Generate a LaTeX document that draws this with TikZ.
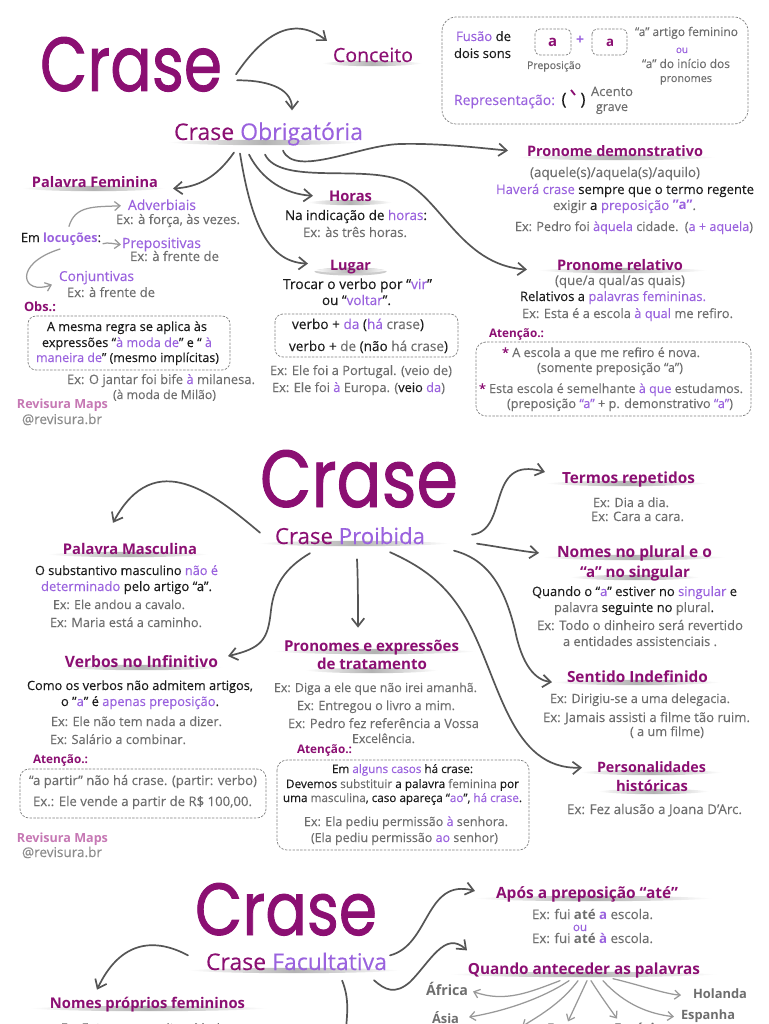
\documentclass[tikz,border=0pt]{standalone}
\usepackage{fontspec}
\usepackage{graphicx}
\setmainfont[UprightFeatures={FakeBold=0.12}]{Open Sans}
\usetikzlibrary{arrows.meta,calc}
\definecolor{plum}{HTML}{8B0F72}
\definecolor{lilac}{HTML}{9A62DE}
\definecolor{greytx}{HTML}{6E6E6E}
\definecolor{inkk}{HTML}{1C1C1C}
\definecolor{arrowc}{HTML}{555555}
\definecolor{arrowl}{HTML}{999999}
\definecolor{brandc}{HTML}{C678B4}
\newcommand{\Lp}[1]{\textcolor{lilac}{#1}}
\newcommand{\Bk}[1]{\textcolor{inkk}{#1}}
\newcommand{\Pm}[1]{\textcolor{plum}{#1}}
\tikzset{
  tx/.style={inner sep=0pt,outer sep=0pt,text=greytx,anchor=base},
  arr/.style={draw=arrowc,line width=1.7pt,line cap=round,-{Straight Barb[length=8pt,width=12.5pt,line width=1.7pt]}},
  arrl/.style={draw=arrowl,line width=1.25pt,line cap=round,-{Straight Barb[length=5.5pt,width=9pt,line width=1.25pt]}},
  dbox/.style={draw=black!50,line width=0.7pt,dash pattern=on 2.4pt off 1.4pt},
}
% one line of text, set to fill xl..xr, baseline yb
\newcommand{\tline}[5]{\pgfmathsetmacro{\tlw}{#3-#2}%
  \node[tx] (#1) at ({(#2+#3)/2},#4) {\resizebox{\tlw pt}{!}{#5}};}
% soft underline
\newcommand{\shd}[3]{\pgfmathsetmacro{\sa}{#1+(#2-#1)*0.2}\pgfmathsetmacro{\sb}{#1+(#2-#1)*0.8}%
  \pgfmathsetmacro{\sy}{#3+0.5}%
  \shade[left color=white,right color=white,middle color=black!30]
    (#1,\sy) .. controls (\sa,\sy-3.6) and (\sb,\sy-3.6) .. (#2,\sy)
    .. controls (\sb,\sy+3.6) and (\sa,\sy+3.6) .. (#1,\sy);}
% heading: name xl xr yb sx1 sx2 text
\newcommand{\hdg}[7]{\shd{#5}{#6}{#4}\tline{#1}{#2}{#3}{#4}{\textcolor{plum}{\bfseries #7}}}
% big title
\newcommand{\bigt}[5]{\pgfmathsetmacro{\tlw}{#3-#2}%
  \node[tx] (#1) at ({(#2+#3)/2},#4) {\resizebox{\tlw pt}{#5pt}{\textcolor{plum}{\fontspec[FakeBold=1.2]{Poppins}\selectfont Crase}}};}
\begin{document}
\begin{tikzpicture}[x=1pt,y=-1pt]
\useasboundingbox (0,0) rectangle (768,1024);
\clip (0,0) rectangle (768,1024);
\fill[white] (0,0) rectangle (768,1024);

% ---------------- SECTION 1
\bigt{tA}{40}{222}{91}{54}
\shd{322}{422}{63}
\tline{con}{333}{413}{62}{\Pm{Conceito}}
\shd{168}{360}{142}
\tline{ob}{174}{363}{140}{\Pm{Crase} \Lp{Obrigatória}}

% concept box
\draw[dbox,rounded corners=14pt] (442,17) rectangle (748,124);
\tline{fu}{456}{511}{41}{\Lp{Fusão} \Bk{de}}
\tline{ds}{454}{511}{58}{\Bk{dois sons}}
\draw[dbox,rounded corners=5pt] (535,29) rectangle (571,55);
\draw[dbox,rounded corners=5pt] (592,29) rectangle (627,55);
\tline{a1}{548}{557}{47}{\Pm{\bfseries a}}
\tline{pl}{576}{584}{45}{\Lp{\bfseries +}}
\tline{a2}{606}{614}{47}{\Pm{\bfseries a}}
\tline{pp0}{527}{581}{69}{Preposição}
\tline{ar1}{635}{738}{36}{“a” artigo feminino}
\tline{ar2}{676}{688}{53}{\Lp{ou}}
\tline{ar3}{642}{730}{68}{“a” do início dos}
\tline{ar4}{660}{712}{82}{pronomes}
\tline{rp}{454}{555}{105}{\Lp{Representação:}}
\node[tx,text=inkk,font=\fontsize{17pt}{17pt}\selectfont] (pa) at (564,105) {(};
\node[tx,text=inkk,font=\fontsize{17pt}{17pt}\selectfont] (pb) at (583,105) {)};
\draw[plum,line width=1.8pt] (571,90)--(575,95);
\tline{ac1}{591}{633}{96}{Acento}
\tline{ac2}{596}{628}{111}{grave}

% Pronome demonstrativo
\hdg{pd}{527}{703}{157}{518}{715}{Pronome demonstrativo}
\tline{pd1}{530}{700}{177}{(aquele(s)/aquela(s)/aquilo)}
\tline{pd2}{496}{754}{194}{\Lp{Haverá crase} \Bk{sempre que o termo regente}}
\tline{pd3}{553}{696}{210}{exigir \Bk{a} \Lp{preposição} \Lp{\bfseries "a"}.}
\tline{pd4}{515}{753}{231}{Ex: Pedro foi \Lp{àquela} cidade.\enspace(\Lp{a + aquela})}

% Palavra Feminina
\hdg{pf}{32}{158}{188}{22}{165}{Palavra Feminina}
\tline{ad}{128}{196}{210}{\Lp{Adverbiais}}
\tline{ad1}{116}{240}{224}{Ex: à força, às vezes.}
\tline{lo}{21}{101}{242}{\Bk{Em} \Lp{\bfseries locuções}\Bk{:}}
\tline{pp}{122}{201}{248}{\Lp{Prepositivas}}
\tline{pp1}{130}{219}{261}{Ex: à frente de}
\tline{cj}{59}{134}{281}{\Lp{Conjuntivas}}
\tline{cj1}{67}{155}{297}{Ex: à frente de}
\tline{ob1}{24}{56}{311}{\Pm{\bfseries Obs.:}}
\draw[dbox,rounded corners=8pt] (28,316) rectangle (230,370);
\tline{m1}{47}{207}{331}{\Bk{A mesma regra se aplica às}}
\tline{m2}{42}{212}{347}{\Bk{expressões “}\Lp{à moda de}\Bk{” e “} \Lp{à}}
\tline{m3}{36}{219}{362}{\Lp{maneira de}\Bk{” (mesmo implícitas)}}
\tline{m4}{67}{255}{384}{Ex: O jantar foi bife \Lp{à} milanesa.}
\tline{m5}{113}{216}{399}{(à moda de Milão)}
\tline{br1}{17}{108}{408}{\textcolor{brandc}{\bfseries Revisura Maps}}
\tline{br2}{22}{102}{424}{\textcolor{black!45}{@revisura.br}}

% Horas
\hdg{ho}{329}{372}{202}{308}{392}{Horas}
\tline{ho1}{285}{427}{220}{\Bk{Na indicação de} \Lp{horas}\Bk{:}}
\tline{ho2}{303}{407}{237}{Ex: às três horas.}

% Lugar
\fill[black!20] (350.5,271.5) ellipse (36 and 4);
\hdg{lu}{330}{371}{270}{314}{387}{Lugar}
\tline{lu1}{283}{432}{289}{\Bk{Trocar o verbo por “}\Lp{vir}\Bk{”}}
\tline{lu2}{322}{391}{305}{\Bk{ou “}\Lp{voltar}\Bk{”.}}
\draw[dbox,rounded corners=8pt] (275,314) rectangle (458,357);
\tline{lu3}{292}{424}{329}{\Bk{verbo +} \Lp{da} \Bk{(}\Lp{há} crase\Bk{)}}
\tline{lu4}{289}{448}{351}{\Bk{verbo +} de \Bk{(não} há crase\Bk{)}}
\tline{lu5}{270}{452}{375}{Ex: Ele foi a Portugal. (veio de)}
\tline{lu6}{272}{445}{392}{Ex: Ele foi \Lp{à} Europa. (\Bk{veio} \Lp{da})}

% Pronome relativo
\hdg{pr}{557}{683}{270}{538}{707}{Pronome relativo}
\tline{pr1}{555}{685}{285}{(que/a qual/as quais)}
\tline{pr2}{520}{706}{301}{\Bk{Relativos a} \Lp{palavras femininas.}}
\tline{pr3}{522}{733}{318}{Ex: Esta é a escola \Lp{à qual} me refiro.}
\tline{pr4}{489}{544}{337}{\Pm{\bfseries Atenção.:}}
\draw[dbox,rounded corners=10pt] (476,342) rectangle (751,416);
\tline{pr5}{502}{700}{357}{\Pm{*} A escola a que me refiro é nova.}
\tline{pr6}{537}{683}{372}{(somente preposição “a”)}
\tline{pr7}{479}{743}{393}{\Pm{*} Esta escola é semelhante \Lp{à que} estudamos.}
\tline{pr8}{507}{733}{408}{(preposição \Lp{“a”} + p. demonstrativo \Lp{“a”})}

% connectors section 1
\draw[arr] ([xshift=14pt,yshift=-10pt]tA.east) .. controls (262,36) and (292,14) .. ([xshift=-6pt,yshift=14pt]con.west);
\draw[arr] ([xshift=15pt,yshift=-16pt]tA.east) .. controls (262,80) and (292,86) .. ([xshift=23.5pt,yshift=12pt]ob.north);
\draw[arr] ([xshift=-34.5pt,yshift=-7pt]ob.south) .. controls (216,178) and (198,187) .. ([xshift=15pt,yshift=-6pt]pf.east);
\draw[arr] ([xshift=-19.5pt,yshift=-9pt]ob.south) .. controls (262,180) and (285,194) .. ([xshift=-16pt,yshift=1pt]ho.west);
\draw[arr] ([xshift=-28.5pt,yshift=-8pt]ob.south) .. controls (250,215) and (265,262) .. ([xshift=-22pt,yshift=3pt]lu.west);
\draw[arr] ([xshift=-3.5pt,yshift=-9pt]ob.south) .. controls (280,185) and (360,165) .. (400,180) .. controls (440,195) and (460,265) .. ([xshift=-30pt,yshift=-5pt]pr.west);
\draw[arr] ([xshift=14.5pt,yshift=-5pt]ob.south) .. controls (295,178) and (360,145) .. (400,144) .. controls (440,143) and (480,148) .. ([xshift=-19pt,yshift=1pt]pd.west);
\draw[arrl] ([xshift=8pt,yshift=6pt]lo.north) .. controls (75,205) and (95,207) .. ([xshift=-7pt,yshift=-1pt]ad.west);
\draw[arrl] ([xshift=2pt,yshift=-5pt]lo.east) .. controls (108,242) and (114,244) .. ([xshift=-1pt]pp.west);
\draw[arrl] ([xshift=-1pt,yshift=-4pt]lo.south) .. controls (12,264) and (22,296) .. ([xshift=-7pt,yshift=-7pt]cj.west);

% ---------------- SECTION 2
\bigt{tB}{260}{458}{507}{57}
\shd{258}{450}{543}
\tline{cp}{275}{425}{544}{\Pm{Crase} \Lp{Proibida}}

\hdg{pm}{63}{197}{554}{48}{208}{Palavra Masculina}
\tline{pm1}{35}{218}{575}{\Bk{O substantivo masculino} \Lp{não é}}
\tline{pm2}{41}{212}{591}{\Lp{determinado} \Bk{pelo artigo “a”.}}
\tline{pm3}{53}{185}{609}{Ex: Ele andou a cavalo.}
\tline{pm4}{50}{202}{627}{Ex: Maria está a caminho.}

\hdg{vi}{65}{218}{667}{61}{223}{Verbos no Infinitivo}
\tline{vi1}{27}{253}{690}{\Bk{Como os verbos não admitem artigos,}}
\tline{vi2}{61}{219}{706}{\Bk{o "}\Lp{a}\Bk{" é} \Lp{apenas preposição}\Bk{.}}
\tline{vi3}{51}{222}{726}{Ex: Ele não tem nada a dizer.}
\tline{vi4}{50}{186}{744}{Ex: Salário a combinar.}
\tline{vi5}{33}{88}{763}{\Pm{\bfseries Atenção.:}}
\draw[dbox,rounded corners=9pt] (20,769) rectangle (266,818);
\tline{vi6}{29}{257}{785}{“a partir” não há crase. (partir: verbo)}
\tline{vi7}{33}{252}{806}{Ex.: Ele vende a partir de R\$ 100,00.}
\tline{br3}{17}{108}{842}{\textcolor{brandc}{\bfseries Revisura Maps}}
\tline{br4}{22}{102}{857}{\textcolor{black!45}{@revisura.br}}

\shd{273}{476}{651}
\tline{pe}{284}{459}{651}{\Pm{\bfseries Pronomes e expressões}}
\shd{305}{438}{670}
\tline{pe0}{317}{427}{669}{\Pm{\bfseries de tratamento}}
\tline{pe1}{274}{477}{692}{Ex: Diga a ele que não irei amanhã.}
\tline{pe2}{297}{455}{710}{Ex: Entregou o livro a mim.}
\tline{pe3}{288}{479}{728}{Ex: Pedro fez referência a Vossa}
\tline{pe4}{352}{415}{743}{Excelência.}
\tline{pe5}{297}{352}{753}{\Pm{\bfseries Atenção.:}}
\draw[dbox,rounded corners=10pt] (277,760) rectangle (529,850);
\tline{pe6}{332}{473}{773}{\Bk{Em} \Lp{alguns casos} \Bk{há crase:}}
\tline{pe7}{286}{519}{788}{\Bk{Devemos} substituir \Bk{a palavra} feminina \Bk{por}}
\tline{pe8}{283}{522}{802}{\Bk{uma} masculina\Bk{, caso apareça “}\Lp{ao}\Bk{”,} \Lp{há crase}\Bk{.}}
\tline{pe9}{304}{508}{826}{Ex: Ela pediu permissão \Lp{à} senhora.}
\tline{pe10}{311}{498}{842}{(Ela pediu permissão \Lp{ao} senhor)}

\hdg{tr}{562}{695}{483}{546}{707}{Termos repetidos}
\tline{tr1}{593}{669}{507}{Ex: Dia a dia.}
\tline{tr2}{591}{684}{521}{Ex: Cara a cara.}

\shd{543}{725}{557}
\tline{np}{557}{712}{557}{\Pm{\bfseries Nomes no plural e o}}
\shd{570}{700}{577}
\tline{np0}{580}{690}{577}{\Pm{\bfseries “a” no singular}}
\tline{np1}{532}{737}{596}{\Bk{Quando o “}\Lp{a}\Bk{” estiver no} \Lp{singular} \Bk{e}}
\tline{np2}{554}{714}{612}{palavra \Bk{seguinte no} plural\Bk{.}}
\tline{np3}{537}{743}{630}{Ex: Todo o dinheiro será revertido}
\tline{np4}{563}{717}{646}{a entidades assistenciais .}

\hdg{si}{567}{708}{682}{553}{720}{Sentido Indefinido}
\tline{si1}{550}{730}{703}{Ex: Dirigiu-se a uma delegacia.}
\tline{si2}{543}{750}{722}{Ex: Jamais assisti a filme tão ruim.}
\tline{si3}{630}{704}{736}{( a um filme)}

\shd{580}{722}{772}
\tline{pers}{597}{706}{772}{\Pm{\bfseries Personalidades}}
\shd{598}{709}{791}
\tline{pers0}{616}{688}{791}{\Pm{\bfseries históricas}}
\tline{pers1}{567}{742}{814}{Ex: Fez alusão a Joana D'Arc.}

% connectors section 2
\draw[arr] ([xshift=-15pt,yshift=3pt]cp.west) .. controls (215,495) and (155,445) .. ([xshift=-17pt,yshift=20pt]pm.north);
\draw[arr] ([xshift=-40pt,yshift=-9pt]cp.south) .. controls (285,568) and (274,585) .. (271,610) .. controls (268,640) and (262,648) .. ([xshift=10pt,yshift=5pt]vi.east);
\draw[arr] ([xshift=7pt,yshift=-15pt]cp.south) .. controls (358,580) and (358,605) .. ([xshift=-13.5pt,yshift=12pt]pe.north);
\draw[arr] ([xshift=40pt,yshift=-8pt]cp.south) .. controls (430,570) and (450,590) .. (467,620) .. controls (500,680) and (510,770) .. ([xshift=-15pt,yshift=-1pt]pers.west);
\draw[arr] ([xshift=29pt,yshift=-15pt]cp.east) .. controls (490,560) and (505,590) .. (515,630) .. controls (522,665) and (535,680) .. ([xshift=-15pt,yshift=-6pt]si.west);
\draw[arr] ([xshift=52pt,yshift=-8pt]cp.east) .. controls (500,547) and (520,551) .. ([xshift=-18pt]np.west);
\draw[arr] ([xshift=47pt,yshift=1pt]cp.east) .. controls (510,530) and (485,455) .. ([xshift=-17pt,yshift=7pt]tr.west);

% ---------------- SECTION 3
\bigt{tC}{195}{377}{935}{52}
\shd{188}{400}{970}
\tline{fc}{206}{387}{970}{\Pm{Crase} \Lp{Facultativa}}

\hdg{nf}{50}{245}{1008}{30}{267}{Nomes próprios femininos}
\tline{nf1}{61}{230}{1032}{Ex: Entrego o convite a Maria.}

\hdg{ap}{496}{678}{898}{474}{712}{Após a preposição “até”}
\tline{ap1}{532}{653}{919}{Ex: fui \textbf{até} \Lp{\bfseries a} escola.}
\tline{ap2}{573}{587}{931}{\Lp{ou}}
\tline{ap3}{532}{653}{943}{Ex: fui \textbf{até} \Lp{\bfseries à} escola.}

\hdg{qa}{468}{700}{974}{450}{717}{Quando anteceder as palavras}
\tline{af}{426}{468}{995}{\bfseries África}
\tline{as}{432}{459}{1023}{\bfseries Ásia}
\tline{eu}{479}{525}{1035}{\bfseries Europa}
\tline{fr}{547}{592}{1033}{\bfseries França}
\tline{ec}{614}{663}{1033}{\bfseries Escócia}
\tline{en}{681}{735}{1019}{\bfseries Espanha}
\tline{hl}{693}{747}{998}{\bfseries Holanda}

\coordinate (fcend) at (345,1040);
\draw[arr] ([xshift=-18pt,yshift=6pt]fc.west) .. controls (150,935) and (118,945) .. ([xshift=-50.5pt,yshift=7pt]nf.north);
\draw[draw=arrowc,line width=1.7pt] ([xshift=45.5pt,yshift=-10pt]fc.south) .. controls (350,1000) and (347,1015) .. (fcend);
\draw[arr] ([xshift=3pt,yshift=6pt]fc.east) .. controls (430,945) and (425,878) .. ([xshift=-21pt,yshift=3pt]ap.west);
\draw[arr] ([xshift=77.5pt,yshift=-10pt]fc.south) .. controls (385,990) and (395,995) .. (410,982) .. controls (430,962) and (445,930) .. ([xshift=-117pt,yshift=12pt]qa.north);
\draw[arrl] ([xshift=-24pt,yshift=-3pt]qa.south) .. controls (530,992) and (505,1003) .. ([xshift=5pt,yshift=-3pt]af.east);
\draw[arrl] ([xshift=-15pt,yshift=-3pt]qa.south) .. controls (540,1000) and (500,1012) .. ([xshift=10pt]as.east);
\draw[arrl] ([xshift=-6pt,yshift=-3pt]qa.south) .. controls (560,1005) and (535,1018) .. ([xshift=20pt,yshift=-1pt]eu.north);
\draw[arrl] ([xshift=3pt,yshift=-3pt]qa.south) -- ([xshift=-1.5pt,yshift=2pt]fr.north);
\draw[arrl] ([xshift=7pt,yshift=-3pt]qa.south) .. controls (600,995) and (608,1006) .. ([xshift=-21.5pt,yshift=4pt]ec.north);
\draw[arrl] ([xshift=19pt,yshift=-3pt]qa.south) .. controls (625,1005) and (650,1014) .. ([xshift=-7pt,yshift=-1pt]en.west);
\draw[arrl] ([xshift=29pt,yshift=-1pt]qa.south) .. controls (640,985) and (665,994) .. ([xshift=-12pt,yshift=-2pt]hl.west);
\end{tikzpicture}
\end{document}
